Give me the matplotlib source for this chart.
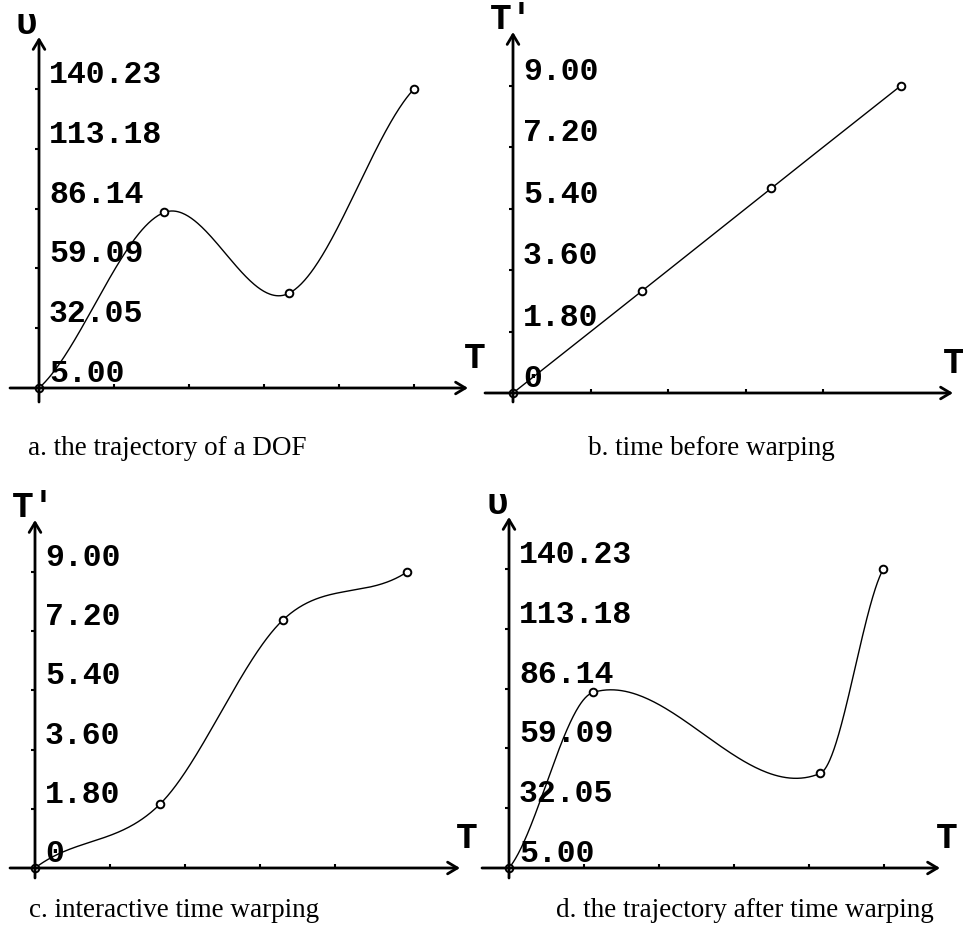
import numpy as np
import matplotlib
matplotlib.use("Agg")
import matplotlib.pyplot as plt
from matplotlib.transforms import offset_copy

W, H, DPI = 963, 942, 100

# ---- keyframe data -------------------------------------------------------
# (a) trajectory of one DOF: value v over time T
traj_T = [0.0, 1.67, 3.33, 5.0]
traj_v = [5.0, 84.4, 47.8, 140.23]
# (b) identity time mapping T -> T'
lin_T = [0.0, 1.67, 3.33, 5.0]
lin_Tp = [0.0, 3.0, 6.0, 9.0]
# (c) edited time mapping T -> T'
warp_T = [0.0, 1.67, 3.31, 4.96]
warp_Tp = [0.0, 1.95, 7.55, 9.0]
# (d) trajectory after warping
warped_T = [0.0, 1.12, 4.15, 4.99]
warped_v = [5.0, 84.4, 47.8, 140.23]

v_ticks = [5.00, 32.05, 59.09, 86.14, 113.18, 140.23]
v_labels = ["5.00", "32.05", "59.09", "86.14", "113.18", "140.23"]
tp_ticks = [0.0, 1.8, 3.6, 5.4, 7.2, 9.0]
tp_labels = ["0", "1.80", "3.60", "5.40", "7.20", "9.00"]

captions = ["a. the trajectory of a DOF", "b. time before warping",
            "c. interactive time warping", "d. the trajectory after time warping"]

MONO = ["Liberation Mono", "DejaVu Sans Mono"]
SERIF = ["Liberation Serif", "DejaVu Serif"]


def key_spline(x, y, n=120):
    """Piecewise cubic Hermite through the keys (Catmull-Rom style tangents)."""
    x = np.asarray(x, float)
    y = np.asarray(y, float)
    m = np.empty_like(y)
    m[1:-1] = (y[2:] - y[:-2]) / (x[2:] - x[:-2])
    c0 = (y[1] - y[0]) / (x[1] - x[0])
    cn = (y[-1] - y[-2]) / (x[-1] - x[-2])
    m[0] = 0.5 * (c0 + m[1])
    m[-1] = 0.5 * (cn + m[-2])
    xs, ys = [], []
    t = np.linspace(0.0, 1.0, n)
    h00 = 2 * t**3 - 3 * t**2 + 1
    h10 = t**3 - 2 * t**2 + t
    h01 = -2 * t**3 + 3 * t**2
    h11 = t**3 - t**2
    for i in range(len(x) - 1):
        h = x[i + 1] - x[i]
        xs.append(x[i] + t * h)
        ys.append(h00 * y[i] + h10 * h * m[i] + h01 * y[i + 1] + h11 * h * m[i + 1])
    return np.concatenate(xs), np.concatenate(ys)


fig = plt.figure(figsize=(W / DPI, H / DPI), dpi=DPI)
fig.patch.set_facecolor("white")

# panel geometry in pixels: origin, px per unit, axis extents
panels = [
    dict(T=traj_T, Y=traj_v, ticks=v_ticks, labels=v_labels, yname="\u03c5",
         ox=39, oy=388, sx=75.0, sy=59.8 / 27.046, y0=5.0,
         xl=10, xr=468, yb=402, yt=37, xt=[1, 2, 3, 4, 5], tdx=-4),
    dict(T=lin_T, Y=lin_Tp, ticks=tp_ticks, labels=tp_labels, yname="T'",
         ox=513, oy=393, sx=77.5, sy=61.4 / 1.8, y0=0.0,
         xl=485, xr=953, yb=402, yt=32, xt=[1, 2, 3, 4], tdx=-10),
    dict(T=warp_T, Y=warp_Tp, ticks=tp_ticks, labels=tp_labels, yname="T'",
         ox=35, oy=868, sx=75.0, sy=59.2 / 1.8, y0=0.0,
         xl=10, xr=460, yb=878, yt=520, xt=[1, 2, 3, 4], tdx=-4),
    dict(T=warped_T, Y=warped_v, ticks=v_ticks, labels=v_labels, yname="\u03c5",
         ox=509, oy=868, sx=75.0, sy=59.8 / 27.046, y0=5.0,
         xl=482, xr=940, yb=878, yt=517, xt=[1, 2, 3, 4, 5], tdx=-4),
]

for p in panels:
    rect = [p["xl"] / W, 1 - p["yb"] / H, (p["xr"] - p["xl"]) / W, (p["yb"] - p["yt"]) / H]
    ax = fig.add_axes(rect)
    ax.patch.set_alpha(0)
    xmin = (p["xl"] - p["ox"]) / p["sx"]
    xmax = (p["xr"] - p["ox"]) / p["sx"]
    ymin = p["y0"] + (p["oy"] - p["yb"]) / p["sy"]
    ymax = p["y0"] + (p["oy"] - p["yt"]) / p["sy"]
    ax.set_xlim(xmin, xmax)
    ax.set_ylim(ymin, ymax)

    # spines sit on the data axes so the ticks land there; arrows draw the lines
    ax.spines["left"].set_position(("data", 0.0))
    ax.spines["bottom"].set_position(("data", p["y0"]))
    for s in ax.spines.values():
        s.set_visible(False)
    ax.set_xticks(p["xt"])
    ax.set_yticks(p["ticks"][1:])
    ax.tick_params(axis="x", direction="in", length=3, width=1.5, labelbottom=False)
    ax.tick_params(axis="y", direction="out", length=3, width=1.5, labelleft=False)

    arrow = dict(arrowstyle="->,head_length=0.5,head_width=0.3", lw=2, color="black",
                 shrinkA=0, shrinkB=0, mutation_scale=14)
    ax.annotate("", xy=(xmax, p["y0"]), xytext=(xmin, p["y0"]), arrowprops=arrow)
    ax.annotate("", xy=(0.0, ymax), xytext=(0.0, ymin), arrowprops=arrow)

    # value labels to the right of the vertical axis, just above each tick
    lab_tr = offset_copy(ax.transData, fig=fig, x=10, y=6, units="dots")
    for val, lab in zip(p["ticks"], p["labels"]):
        ax.text(0.0, val, lab, transform=lab_tr, ha="left", va="baseline",
                family=MONO, fontsize=22.7, weight="bold", color="black")

    # axis names
    name_tr = offset_copy(ax.transData, fig=fig, x=-23, y=3, units="dots")
    ax.text(0.0, ymax, p["yname"], transform=name_tr, ha="left", va="baseline",
            family=MONO, fontsize=26, weight="bold", color="black")
    t_tr = offset_copy(ax.transData, fig=fig, x=p["tdx"], y=20, units="dots")
    ax.text(xmax, p["y0"], "T", transform=t_tr, ha="left", va="baseline",
            family=MONO, fontsize=26, weight="bold", color="black", clip_on=False)

    # curve and key markers
    cx, cy = key_spline(p["T"], p["Y"])
    ax.plot(cx, cy, color="black", lw=1.0, clip_on=False)
    ax.plot(p["T"], p["Y"], "o", mfc="white", mec="black", ms=5.5, mew=1.4, clip_on=False)

cap_pos = [(28, 455), (588, 455), (29, 917), (556, 917)]
for (x, y), txt in zip(cap_pos, captions):
    fig.text(x / W, 1 - y / H, txt, ha="left", va="baseline", family=SERIF,
             fontsize=19.5, color="black")

fig.savefig("out.png", dpi=DPI, facecolor="white")
